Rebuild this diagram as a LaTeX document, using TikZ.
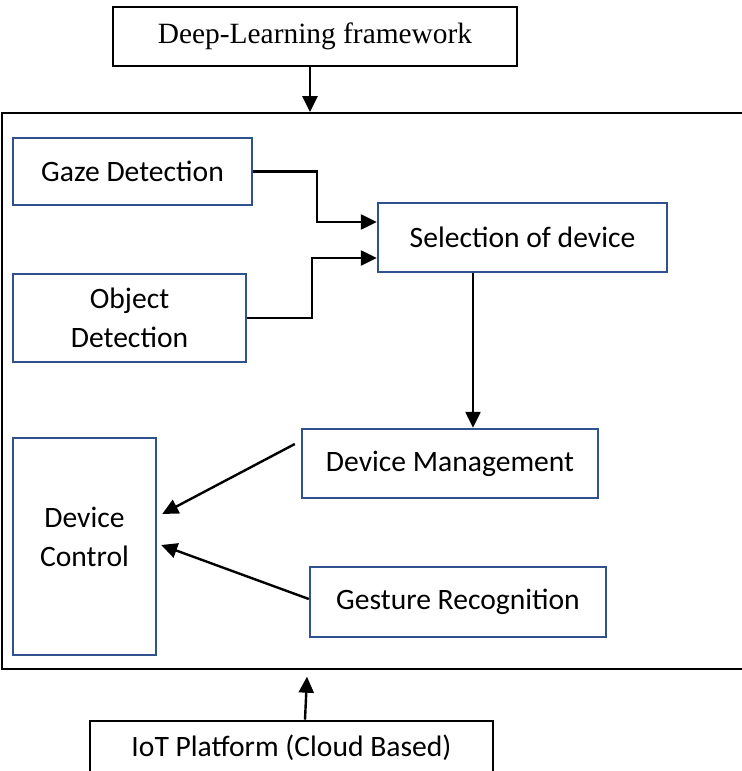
\documentclass[tikz,border=0pt]{standalone}
\usepackage{xcolor}
\usepackage{fontspec}
\setmainfont{Carlito}
\newfontfamily\timesfont{Liberation Serif}
\usepackage{tikz}
\usetikzlibrary{positioning,arrows.meta}

\definecolor{boxblue}{RGB}{47,82,143}

\begin{document}
\begin{tikzpicture}[
  x=0.5pt, y=-0.5pt,
  box/.style={draw=boxblue, line width=1.2pt, inner sep=0pt, align=center, font=\fontsize{14.8}{19.5}\selectfont},
  outerbox/.style={draw, line width=1.3pt, inner sep=0pt, align=center, font=\fontsize{14.8}{19.5}\selectfont},
  frame/.style={draw, line width=0.9pt, inner sep=0pt},
  link/.style={-{Triangle[length=8pt,width=7.5pt]}, line width=1.2pt},
]
\useasboundingbox (0,0) rectangle (741,771);

% Top and bottom layers
\node[outerbox, minimum width=202pt, minimum height=29.5pt, font=\timesfont\fontsize{14.7}{17}\selectfont] (dl) at (315,36.5) {Deep-Learning framework};
\node[frame, minimum width=371pt, minimum height=278pt] (platform) at (373,391) {};
\node[outerbox, minimum width=201.5pt, minimum height=27pt] (iot) at (291.5,748) {IoT Platform (Cloud Based)};

% Inner blocks
\node[box, minimum width=119.5pt, minimum height=33.5pt] (gaze) at (132.5,171.5) {Gaze Detection};
\node[box, minimum width=116.5pt, minimum height=44pt] (obj) at (129.5,318) {Object\\Detection};
\node[box, minimum width=144.5pt, minimum height=34.5pt] (sel) at (522.5,237.5) {Selection of device};
\node[box, minimum width=148pt, minimum height=34.5pt] (mgmt) at (450,463.5) {Device Management};
\node[box, minimum width=71.5pt, minimum height=108.5pt] (ctrl) at (84.5,546.5) {Device\\Control\\[-9.5pt]\mbox{}};
\node[box, minimum width=148pt, minimum height=35pt] (gest) at (458,602) {Gesture Recognition};

% Connectors
\draw[link] ([xshift=-2.5pt]dl.south) -- ([xshift=-2.5pt]dl.south |- platform.north);
\draw[link] (gaze.east) -- ++(32pt,0) |- ([yshift=7.75pt]sel.west);
\draw[link] (obj.east) -- ++(32.5pt,0) |- ([yshift=-10.25pt]sel.west);
\draw[link] ([xshift=-24.75pt]sel.south) -- ([xshift=-24.75pt]sel.south |- mgmt.north);
\draw[link] ([shift={(-3pt,9.75pt)}]mgmt.west) -- ([shift={(2.5pt,16.25pt)}]ctrl.east);
\draw[link] ([yshift=1.5pt]gest.west) -- ([shift={(2pt,0.75pt)}]ctrl.east);
\draw[link] ([xshift=6.75pt]iot.north) -- ++(1pt,21.5pt);

\end{tikzpicture}
\end{document}
